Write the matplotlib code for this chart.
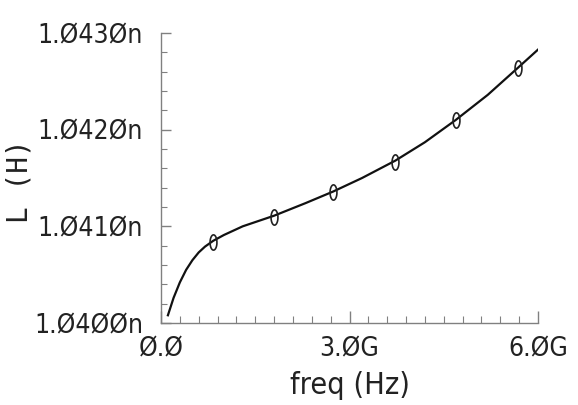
import numpy as np
import matplotlib
matplotlib.use("Agg")
import matplotlib.pyplot as plt
from matplotlib.ticker import FixedLocator, MultipleLocator

# curve (freq in GHz, L in nH)
freq_curve = [0.11, 0.2, 0.3, 0.4, 0.5, 0.6, 0.7, 0.83, 1.0, 1.3, 1.8, 2.3, 2.74, 3.2, 3.73, 4.2, 4.69, 5.2, 5.68, 6.02]
l_curve = [1.04008, 1.04026, 1.04042, 1.04055, 1.04065, 1.04073, 1.04079, 1.04085, 1.04091, 1.04100,
           1.04111, 1.04124, 1.04136, 1.04150, 1.04168, 1.04187, 1.04210, 1.04236, 1.04264, 1.04284]

# measured points (markers)
freq_pts = [0.83, 1.80, 2.74, 3.73, 4.69, 5.68]
l_pts = [1.04084, 1.04110, 1.04136, 1.04167, 1.04210, 1.04264]

y_ticks = [1.040, 1.041, 1.042, 1.043]
y_labels = ["1.Ø4ØØn", "1.Ø41Øn", "1.Ø42Øn", "1.Ø43Øn"]
x_ticks = [0.0, 3.0, 6.0]
x_labels = ["Ø.Ø", "3.ØG", "6.ØG"]

font = dict(family="DejaVu Sans", stretch="condensed", size=19, color="#222222")

fig = plt.figure(figsize=(5.78, 4.05), dpi=100)
ax = fig.add_axes([161 / 578, 1 - 323 / 405, (538 - 161) / 578, (323 - 33) / 405])

# tall hollow oval marker
t = np.linspace(0, 2 * np.pi, 40)
oval = list(zip(0.45 * np.cos(t), np.sin(t)))

ax.plot(freq_curve, l_curve, color="#111111", lw=1.6)
ax.plot(freq_pts, l_pts, linestyle="none", marker=oval, markersize=11,
        markerfacecolor="none", markeredgecolor="#222222", markeredgewidth=1.2)

ax.set_xlim(0, 6.0)
ax.set_ylim(1.040, 1.043)

for s in ["top", "right"]:
    ax.spines[s].set_visible(False)
for s in ["left", "bottom"]:
    ax.spines[s].set_color("#808080")
    ax.spines[s].set_linewidth(1.0)

ax.xaxis.set_major_locator(FixedLocator(x_ticks))
ax.xaxis.set_minor_locator(MultipleLocator(0.3))
ax.yaxis.set_major_locator(FixedLocator(y_ticks))
ax.yaxis.set_minor_locator(MultipleLocator(0.0002))
ax.set_xticklabels(x_labels, **font)
ax.set_yticklabels(y_labels, **font)

ax.tick_params(which="both", direction="in", color="#808080")
ax.tick_params(axis="x", which="major", length=9, width=1.0, pad=10)
ax.tick_params(axis="x", which="minor", length=5, width=0.8)
ax.tick_params(axis="y", which="major", length=7, width=1.0, pad=13)
ax.tick_params(axis="y", which="minor", length=4, width=0.8)

ax.set_xlabel("freq (Hz)", labelpad=6, family="DejaVu Sans", stretch="condensed",
              size=22, color="#222222")
ax.set_ylabel("L (H)", family="DejaVu Sans Mono", size=20, color="#222222")
ax.yaxis.set_label_coords((34 - 161) / 377, 0.49)

fig.savefig("out.png", dpi=100)
